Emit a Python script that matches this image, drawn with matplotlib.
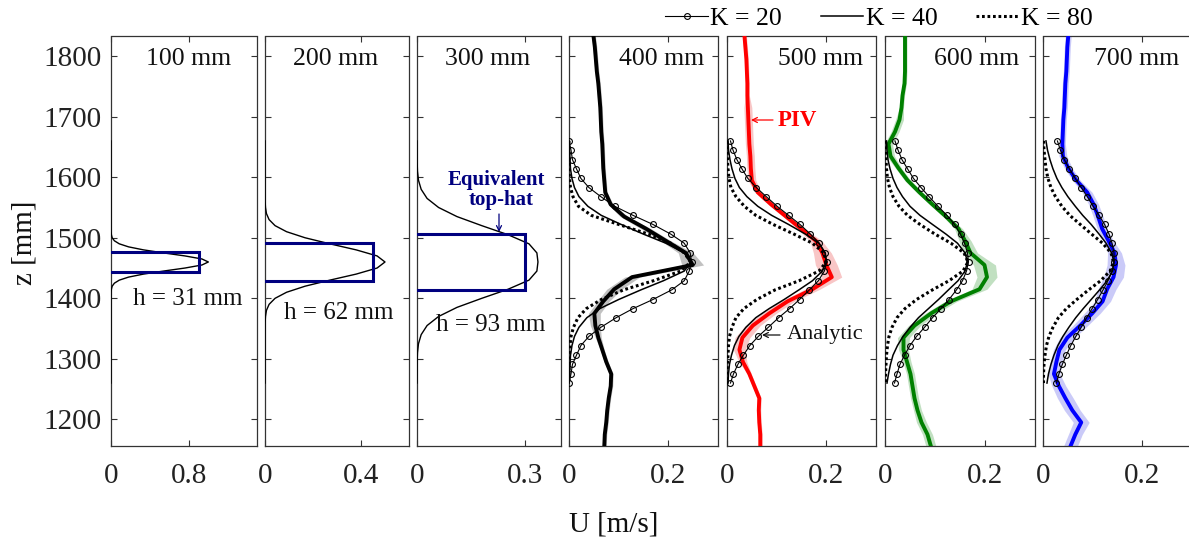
import matplotlib
matplotlib.use("Agg")
import matplotlib.pyplot as plt
from matplotlib.lines import Line2D
from matplotlib.patches import FancyArrowPatch

plt.rcParams['font.family'] = ['Liberation Serif', 'DejaVu Serif']

# ---------------- data ----------------
titles = ["100 mm", "200 mm", "300 mm", "400 mm", "500 mm", "600 mm", "700 mm"]
xlims = [1.5, 0.6, 0.4, 0.3, 0.3, 0.3, 0.3]
xticks = [[0, 0.8], [0, 0.4], [0, 0.3], [0, 0.2], [0, 0.2], [0, 0.2], [0, 0.2]]
xticklabels = [["0", "0.8"], ["0", "0.4"], ["0", "0.3"], ["0", "0.2"], ["0", "0.2"], ["0", "0.2"], ["0", "0.2"]]
yticks = [1200, 1300, 1400, 1500, 1600, 1700, 1800]
ylim = (1156, 1832.5)

# Gaussian-like profiles, panels 1-3
z_g1 = [1260, 1380, 1400, 1410, 1415, 1420, 1425, 1430, 1435, 1440, 1445, 1450, 1455, 1460,
        1465, 1470, 1475, 1480, 1485, 1490, 1495, 1500, 1505, 1510, 1520, 1540, 1660]
u_g1 = [0, 0, 0, 0.001, 0.004, 0.012, 0.035, 0.085, 0.180, 0.334, 0.539, 0.760, 0.934, 1.0,
        0.934, 0.760, 0.539, 0.334, 0.180, 0.085, 0.035, 0.012, 0.004, 0.001, 0, 0, 0]
z_g2 = [1260, 1340, 1360, 1370, 1380, 1390, 1400, 1410, 1420, 1430, 1440, 1450, 1460,
        1470, 1480, 1490, 1500, 1510, 1520, 1530, 1540, 1550, 1560, 1580, 1660]
u_g2 = [0, 0, 0.0005, 0.002, 0.006, 0.017, 0.042, 0.090, 0.167, 0.270, 0.380, 0.467, 0.5,
        0.467, 0.380, 0.270, 0.167, 0.090, 0.042, 0.017, 0.006, 0.002, 0.0005, 0, 0]
z_g3 = [1260, 1295, 1310, 1325, 1340, 1355, 1370, 1385, 1400, 1415, 1430, 1445, 1460,
        1475, 1490, 1505, 1520, 1535, 1550, 1565, 1580, 1595, 1610, 1625, 1660]
u_g3 = [0, 0.0004, 0.0013, 0.0041, 0.0116, 0.028, 0.060, 0.111, 0.180, 0.253, 0.311, 0.333, 0.336,
        0.333, 0.311, 0.253, 0.180, 0.111, 0.060, 0.028, 0.0116, 0.0041, 0.0013, 0.0004, 0]
gauss_z = [z_g1, z_g2, z_g3]
gauss_u = [u_g1, u_g2, u_g3]

# equivalent top-hats
tophat_zb = [1444, 1429, 1413]
tophat_zt = [1476, 1491, 1507]
tophat_u = [0.9, 0.45, 0.30]
tophat_labels = ["h = 31 mm", "h = 62 mm", "h = 93 mm"]

# analytic profiles, panels 4-7
z_an = [1660, 1645, 1629, 1614, 1598, 1583, 1568, 1552, 1537, 1522, 1506, 1491, 1475, 1460,
        1445, 1429, 1414, 1398, 1383, 1368, 1352, 1337, 1322, 1306, 1291, 1275, 1260]
k20 = [
    [0, 0.004, 0.007, 0.015, 0.024, 0.040, 0.064, 0.092, 0.129, 0.169, 0.205, 0.232, 0.244, 0.247,
     0.242, 0.232, 0.207, 0.169, 0.129, 0.095, 0.064, 0.040, 0.024, 0.015, 0.007, 0.004, 0],
    [0.007, 0.012, 0.020, 0.030, 0.042, 0.059, 0.079, 0.101, 0.124, 0.147, 0.168, 0.186, 0.197, 0.201,
     0.196, 0.184, 0.166, 0.146, 0.126, 0.104, 0.083, 0.063, 0.046, 0.033, 0.022, 0.013, 0.007],
    [0.020, 0.026, 0.034, 0.045, 0.057, 0.072, 0.088, 0.106, 0.124, 0.139, 0.151, 0.159, 0.165, 0.167,
     0.163, 0.155, 0.143, 0.128, 0.112, 0.095, 0.079, 0.063, 0.050, 0.039, 0.030, 0.024, 0.019],
    [0.029, 0.035, 0.043, 0.053, 0.065, 0.077, 0.089, 0.101, 0.113, 0.124, 0.133, 0.139, 0.143, 0.143,
     0.139, 0.131, 0.121, 0.110, 0.099, 0.088, 0.077, 0.066, 0.056, 0.047, 0.039, 0.032, 0.027],
]
k40 = [
    [0, 0.001, 0.002, 0.003, 0.006, 0.011, 0.020, 0.038, 0.065, 0.105, 0.150, 0.195, 0.232, 0.245,
     0.232, 0.190, 0.145, 0.100, 0.062, 0.036, 0.020, 0.011, 0.006, 0.003, 0.002, 0.001, 0],
    [0.002, 0.003, 0.006, 0.010, 0.016, 0.025, 0.040, 0.062, 0.090, 0.124, 0.158, 0.185, 0.198, 0.200,
     0.192, 0.172, 0.145, 0.115, 0.085, 0.058, 0.038, 0.024, 0.015, 0.009, 0.005, 0.003, 0.002],
    [0.003, 0.004, 0.006, 0.010, 0.016, 0.024, 0.035, 0.050, 0.070, 0.095, 0.122, 0.145, 0.160, 0.165,
     0.160, 0.146, 0.127, 0.107, 0.087, 0.067, 0.050, 0.036, 0.025, 0.016, 0.011, 0.007, 0.004],
    [0.006, 0.009, 0.014, 0.020, 0.028, 0.038, 0.050, 0.065, 0.080, 0.097, 0.113, 0.127, 0.138, 0.143,
     0.140, 0.129, 0.114, 0.097, 0.081, 0.066, 0.052, 0.040, 0.030, 0.022, 0.016, 0.011, 0.008],
]
k80 = [
    [0, 0, 0, 0, 0.001, 0.003, 0.008, 0.019, 0.045, 0.100, 0.160, 0.205, 0.232, 0.245,
     0.225, 0.170, 0.110, 0.065, 0.035, 0.018, 0.009, 0.004, 0.002, 0.001, 0, 0, 0],
    [0, 0.001, 0.001, 0.002, 0.004, 0.008, 0.018, 0.035, 0.058, 0.093, 0.135, 0.172, 0.195, 0.200,
     0.185, 0.145, 0.097, 0.060, 0.034, 0.018, 0.010, 0.005, 0.003, 0.002, 0.001, 0, 0],
    [0.001, 0.001, 0.002, 0.003, 0.005, 0.009, 0.016, 0.028, 0.045, 0.070, 0.100, 0.132, 0.158, 0.166,
     0.156, 0.128, 0.095, 0.063, 0.040, 0.024, 0.014, 0.008, 0.005, 0.003, 0.002, 0.001, 0.001],
    [0.001, 0.002, 0.004, 0.006, 0.010, 0.016, 0.025, 0.038, 0.054, 0.075, 0.098, 0.120, 0.137, 0.142,
     0.135, 0.116, 0.092, 0.068, 0.047, 0.031, 0.020, 0.012, 0.007, 0.004, 0.002, 0.001, 0.001],
]

# PIV profiles, panels 4-7
z_piv = [1835, 1815, 1795, 1775, 1755, 1735, 1715, 1695, 1675, 1655, 1635, 1615, 1595, 1575,
         1555, 1535, 1515, 1495, 1475, 1455, 1435, 1415, 1395, 1375, 1355, 1335, 1315, 1295,
         1275, 1255, 1235, 1215, 1195, 1175, 1155]
piv_u = [
    [0.049, 0.052, 0.054, 0.056, 0.059, 0.061, 0.063, 0.064, 0.065, 0.067, 0.068, 0.069, 0.071, 0.073,
     0.084, 0.111, 0.155, 0.195, 0.235, 0.249, 0.127, 0.091, 0.069, 0.051, 0.053, 0.059, 0.067, 0.075,
     0.085, 0.084, 0.080, 0.077, 0.075, 0.072, 0.071],
    [0.035, 0.037, 0.039, 0.040, 0.041, 0.041, 0.042, 0.043, 0.044, 0.045, 0.047, 0.048, 0.050, 0.062,
     0.089, 0.119, 0.149, 0.179, 0.192, 0.200, 0.211, 0.172, 0.122, 0.085, 0.052, 0.031, 0.025, 0.032,
     0.045, 0.055, 0.065, 0.064, 0.065, 0.067, 0.067],
    [0.040, 0.040, 0.040, 0.040, 0.039, 0.035, 0.033, 0.029, 0.020, 0.007, 0.011, 0.027, 0.045, 0.069,
     0.095, 0.122, 0.147, 0.160, 0.171, 0.199, 0.204, 0.189, 0.132, 0.092, 0.059, 0.037, 0.037, 0.044,
     0.051, 0.055, 0.059, 0.065, 0.073, 0.085, 0.092],
    [0.051, 0.049, 0.048, 0.047, 0.045, 0.044, 0.043, 0.041, 0.040, 0.039, 0.040, 0.051, 0.067, 0.089,
     0.102, 0.111, 0.119, 0.132, 0.144, 0.147, 0.142, 0.129, 0.120, 0.099, 0.075, 0.049, 0.033, 0.027,
     0.022, 0.032, 0.045, 0.059, 0.077, 0.065, 0.055],
]
piv_band = [
    [0.004, 0.004, 0.004, 0.004, 0.004, 0.004, 0.004, 0.004, 0.004, 0.004, 0.004, 0.004, 0.004, 0.004,
     0.005, 0.008, 0.010, 0.010, 0.015, 0.022, 0.015, 0.015, 0.012, 0.012, 0.010, 0.006, 0.004, 0.004,
     0.004, 0.004, 0.004, 0.004, 0.004, 0.004, 0.004],
    [0.004, 0.004, 0.004, 0.004, 0.004, 0.004, 0.008, 0.008, 0.008, 0.008, 0.008, 0.008, 0.008, 0.006,
     0.006, 0.006, 0.008, 0.012, 0.018, 0.022, 0.020, 0.015, 0.014, 0.014, 0.015, 0.015, 0.012, 0.008,
     0.004, 0.004, 0.004, 0.004, 0.004, 0.004, 0.004],
    [0.004, 0.004, 0.004, 0.004, 0.004, 0.004, 0.004, 0.008, 0.008, 0.008, 0.008, 0.006, 0.006, 0.006,
     0.006, 0.006, 0.008, 0.012, 0.014, 0.022, 0.020, 0.015, 0.012, 0.012, 0.012, 0.012, 0.010, 0.008,
     0.008, 0.008, 0.008, 0.008, 0.010, 0.010, 0.010],
    [0.006, 0.006, 0.006, 0.006, 0.006, 0.006, 0.006, 0.006, 0.006, 0.006, 0.008, 0.008, 0.008, 0.010,
     0.010, 0.010, 0.010, 0.010, 0.014, 0.018, 0.020, 0.018, 0.016, 0.016, 0.015, 0.015, 0.012, 0.012,
     0.012, 0.014, 0.016, 0.016, 0.016, 0.014, 0.014],
]
piv_colors = ["black", "#ff0000", "#008000", "#0000ff"]
band_colors = ["#999999", "#f4a0a0", "#99cc99", "#a8a8f4"]

legend_labels = ["K = 20", "K = 40", "K = 80"]

# ---------------- layout ----------------
W, H = 1189, 542
panel_left = [111, 265, 417, 569, 727, 885, 1043]
panel_width = [146, 144, 144, 149, 149, 150, 149]
ax_top, ax_bot = 36.5, 446
title_xfrac = [0.53, 0.49, 0.49, 0.62, 0.63, 0.61, 0.63]

navy = "#00007f"
txtc = '#111111'
fig = plt.figure(figsize=(W / 100, H / 100), dpi=100)
axes = []
for i in range(7):
    ax = fig.add_axes([panel_left[i] / W, (H - ax_bot) / H, panel_width[i] / W, (ax_bot - ax_top) / H])
    axes.append(ax)
    ax.set_xlim(0, xlims[i])
    ax.set_ylim(*ylim)
    ax.set_xticks(xticks[i])
    ax.set_xticklabels(xticklabels[i])
    ax.set_yticks(yticks)
    ax.tick_params(direction='in', top=True, right=(i < 6), length=4, width=0.8,
                   labelsize=21, colors='#333333', labelcolor='#222222', pad=12)
    ax.tick_params(axis='y', pad=7)
    if i > 0:
        ax.set_yticklabels([])
    for s in ax.spines.values():
        s.set_linewidth(0.9)
        s.set_color('#333333')
    if i == 6:
        ax.spines['right'].set_visible(False)
    ax.text(title_xfrac[i], 0.946, titles[i], transform=ax.transAxes, ha='center', va='center',
            fontsize=18.5, color=txtc)

# panels 1-3
for i in range(3):
    ax = axes[i]
    ax.plot(gauss_u[i], gauss_z[i], color='black', lw=1.0, zorder=3)
    ax.plot([0, tophat_u[i], tophat_u[i], 0], [tophat_zb[i], tophat_zb[i], tophat_zt[i], tophat_zt[i]],
            color=navy, lw=2.2, zorder=4, solid_joinstyle='miter')

tophat_text_pos = [(188, 299), (339, 313), (491, 325)]
for (px, py), lab in zip(tophat_text_pos, tophat_labels):
    fig.text(px / W, 1 - py / H, lab, ha='center', va='center', fontsize=18, color=txtc)

fig.text(496 / W, 1 - 180 / H, "Equivalent", ha='center', va='center', fontsize=15,
         fontweight='bold', color=navy)
fig.text(501 / W, 1 - 200 / H, "top-hat", ha='center', va='center', fontsize=15,
         fontweight='bold', color=navy)
fig.add_artist(FancyArrowPatch((499 / W, 1 - 214 / H), (499 / W, 1 - 232 / H),
               transform=fig.transFigure, arrowstyle='->', color=navy, lw=0.9, mutation_scale=9,
               shrinkA=0, shrinkB=0))

# panels 4-7
for j in range(4):
    ax = axes[3 + j]
    lo = [u - b for u, b in zip(piv_u[j], piv_band[j])]
    hi = [u + b for u, b in zip(piv_u[j], piv_band[j])]
    ax.fill_betweenx(z_piv, lo, hi, color=band_colors[j], alpha=0.6, lw=0, zorder=1)
    ax.plot(piv_u[j], z_piv, color=piv_colors[j], lw=2.8, zorder=5)
    ax.plot(k20[j], z_an, color='black', lw=0.8, marker='o', ms=4.2, mfc='none', mew=0.8, zorder=6)
    ax.plot(k40[j], z_an, color='black', lw=1.1, zorder=6)
    ax.plot(k80[j], z_an, color='black', lw=2.2, ls=(0, (0.9, 0.9)), zorder=6)

# annotations in panel 5
fig.text(797 / W, 1 - 120 / H, "PIV", ha='center', va='center', fontsize=16.5,
         fontweight='bold', color='#ff0000')
fig.add_artist(FancyArrowPatch((773 / W, 1 - 120 / H), (751 / W, 1 - 120 / H),
               transform=fig.transFigure, arrowstyle='->', color='#ff0000', lw=0.9, mutation_scale=9,
               shrinkA=0, shrinkB=0))
fig.text(825 / W, 1 - 335 / H, "Analytic", ha='center', va='center', fontsize=16, color=txtc)
fig.add_artist(FancyArrowPatch((780 / W, 1 - 335 / H), (762 / W, 1 - 335 / H),
               transform=fig.transFigure, arrowstyle='->', color=txtc, lw=0.9, mutation_scale=9,
               shrinkA=0, shrinkB=0))

# axis labels
fig.text(24 / W, 1 - 243 / H, "z [mm]", rotation=90, ha='center', va='center', fontsize=21, color=txtc)
fig.text(614 / W, 1 - 525 / H, "U [m/s]", ha='center', va='center', fontsize=21, color=txtc)

# legend
handles = [Line2D([], [], color='black', lw=0.8, marker='o', ms=4.2, mfc='none', mew=0.8),
           Line2D([], [], color='black', lw=1.1),
           Line2D([], [], color='black', lw=2.2, ls=(0, (0.9, 0.9)))]
fig.legend(handles, legend_labels, loc='center', bbox_to_anchor=(879 / W, 1 - 19 / H), ncol=3,
           frameon=False, fontsize=18.5, handlelength=1.65, handletextpad=0.1, columnspacing=1.5,
           borderpad=0, borderaxespad=0)

fig.savefig("out.png", dpi=100)
